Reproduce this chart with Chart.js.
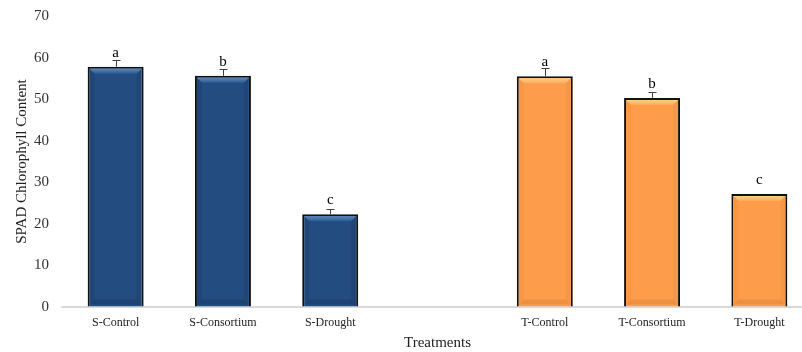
<!DOCTYPE html>
<html>
<head>
<meta charset="utf-8">
<script src="https://cdn.jsdelivr.net/npm/chart.js@4/dist/chart.umd.min.js"></script>
<style>
  html, body { margin: 0; padding: 0; background: #fff; overflow: hidden; }
  #wrap { width: 802px; height: 352px; overflow: hidden; }
  canvas { display: block; }
</style>
</head>
<body>
<div id="wrap"><canvas id="chart" width="814" height="352"></canvas></div>
<script>
// Treatments: S group, an empty spacer slot, then T group
const categories = ['S-Control', 'S-Consortium', 'S-Drought', '', 'T-Control', 'T-Consortium', 'T-Drought'];

// Mean SPAD readings
const sValues = [57.8, 55.6, 22.3, null, null, null, null];
const tValues = [null, null, null, null, 55.5, 50.3, 27.2];

// Standard errors (upper whisker only)
const sErrors = [1.5, 1.6, 1.2, null, null, null, null];
const tErrors = [null, null, null, null, 2.0, 1.4, 0];

// Significance letters
const sLetters = ['a', 'b', 'c', null, null, null, null];
const tLetters = [null, null, null, null, 'a', 'b', 'c'];

const yTicks = { min: 0, max: 70, step: 10 };

const SERIF = "'Liberation Serif', 'Times New Roman', serif";

// Bevelled look on each bar: light top edge, slightly darker sides
const bevelPlugin = {
  id: 'bevel',
  afterDatasetsDraw(chart) {
    const ctx = chart.ctx;
    chart.data.datasets.forEach((ds, di) => {
      const meta = chart.getDatasetMeta(di);
      meta.data.forEach((bar, i) => {
        if (ds.data[i] == null) return;
        const { x, y, base, width } = bar.getProps(['x', 'y', 'base', 'width'], true);
        const bw = 2;
        const l = x - width / 2 + bw, r = x + width / 2 - bw;
        const t = y + bw, b = base - bw;
        const d = 5;
        ctx.save();
        // top highlight
        const gTop = ctx.createLinearGradient(0, t, 0, t + d);
        gTop.addColorStop(0, ds.bevelLight);
        gTop.addColorStop(1, ds.bevelLight2);
        ctx.fillStyle = gTop;
        ctx.beginPath();
        ctx.moveTo(l, t); ctx.lineTo(r, t); ctx.lineTo(r - d, t + d); ctx.lineTo(l + d, t + d); ctx.closePath();
        ctx.fill();
        // side shading
        ctx.fillStyle = ds.bevelDark;
        ctx.beginPath();
        ctx.moveTo(l, t); ctx.lineTo(l + d, t + d); ctx.lineTo(l + d, b - d); ctx.lineTo(l, b); ctx.closePath();
        ctx.fill();
        ctx.beginPath();
        ctx.moveTo(r, t); ctx.lineTo(r - d, t + d); ctx.lineTo(r - d, b - d); ctx.lineTo(r, b); ctx.closePath();
        ctx.fill();
        ctx.fillStyle = ds.bevelDarker;
        ctx.beginPath();
        ctx.moveTo(l, b); ctx.lineTo(l + d, b - d); ctx.lineTo(r - d, b - d); ctx.lineTo(r, b); ctx.closePath();
        ctx.fill();
        ctx.restore();
      });
    });
  }
};

// Error whiskers and significance letters
const annotatePlugin = {
  id: 'annotate',
  afterDatasetsDraw(chart) {
    const ctx = chart.ctx;
    const yScale = chart.scales.y;
    chart.data.datasets.forEach((ds, di) => {
      const meta = chart.getDatasetMeta(di);
      meta.data.forEach((bar, i) => {
        const v = ds.data[i];
        if (v == null) return;
        const { x, y } = bar.getProps(['x', 'y'], true);
        const err = ds.errors[i];
        ctx.save();
        if (err) {
          const yTop = yScale.getPixelForValue(v + err);
          ctx.strokeStyle = '#404040';
          ctx.lineWidth = 1;
          ctx.beginPath();
          ctx.moveTo(Math.round(x) + 0.5, y);
          ctx.lineTo(Math.round(x) + 0.5, Math.round(yTop) + 0.5);
          ctx.moveTo(Math.round(x) - 3.5, Math.round(yTop) + 0.5);
          ctx.lineTo(Math.round(x) + 4.5, Math.round(yTop) + 0.5);
          ctx.stroke();
        }
        const letter = ds.letters[i];
        if (letter) {
          ctx.fillStyle = '#000';
          ctx.font = '15px ' + SERIF;
          ctx.textAlign = 'center';
          ctx.textBaseline = 'alphabetic';
          ctx.fillText(letter, x, y - 10);
        }
        ctx.restore();
      });
    });
  }
};

new Chart(document.getElementById('chart'), {
  type: 'bar',
  data: {
    labels: categories,
    datasets: [
      {
        label: 'S',
        data: sValues,
        errors: sErrors,
        letters: sLetters,
        backgroundColor: '#234C80',
        borderColor: '#111',
        borderWidth: 2,
        bevelLight: '#5A86BE',
        bevelLight2: '#2D5A92',
        bevelDark: 'rgba(10,30,60,0.12)',
        bevelDarker: 'rgba(10,30,60,0.2)',
        grouped: false,
        barPercentage: 0.522,
        categoryPercentage: 1
      },
      {
        label: 'T',
        data: tValues,
        errors: tErrors,
        letters: tLetters,
        backgroundColor: '#FD9D4C',
        borderColor: '#111',
        borderWidth: 2,
        bevelLight: '#FFD08A',
        bevelLight2: '#FFAA58',
        bevelDark: 'rgba(170,80,10,0.08)',
        bevelDarker: 'rgba(170,80,10,0.16)',
        grouped: false,
        barPercentage: 0.522,
        categoryPercentage: 1
      }
    ]
  },
  options: {
    responsive: false,
    animation: false,
    devicePixelRatio: 1,
    layout: { padding: { top: 16, right: 1, bottom: 0, left: 0 } },
    plugins: {
      legend: { display: false },
      tooltip: { enabled: false }
    },
    scales: {
      x: {
        grid: { display: true, color: 'rgba(0,0,0,0)', drawTicks: false },
        border: { display: true, color: '#D9D9D9', width: 2 },
        ticks: {
          color: '#222',
          font: { family: SERIF, size: 12 },
          padding: 9,
          maxRotation: 0,
          autoSkip: false
        },
        title: {
          display: true,
          text: 'Treatments',
          color: '#222',
          font: { family: SERIF, size: 15 },
          padding: { top: 2, bottom: 0 }
        },
        afterFit(scale) { scale.height = 45; }
      },
      y: {
        min: yTicks.min,
        max: yTicks.max,
        grid: { display: true, color: 'rgba(0,0,0,0)', drawTicks: true, tickLength: 13 },
        border: { display: false },
        ticks: {
          stepSize: yTicks.step,
          color: '#333',
          font: { family: SERIF, size: 15 },
          padding: 0
        },
        title: {
          display: true,
          text: 'SPAD Chlorophyll Content',
          color: '#222',
          font: { family: SERIF, size: 15 },
          padding: { top: 13, bottom: 0 }
        },
        afterFit(scale) { scale.width = 62; }
      }
    }
  },
  plugins: [bevelPlugin, annotatePlugin]
});
</script>
</body>
</html>
